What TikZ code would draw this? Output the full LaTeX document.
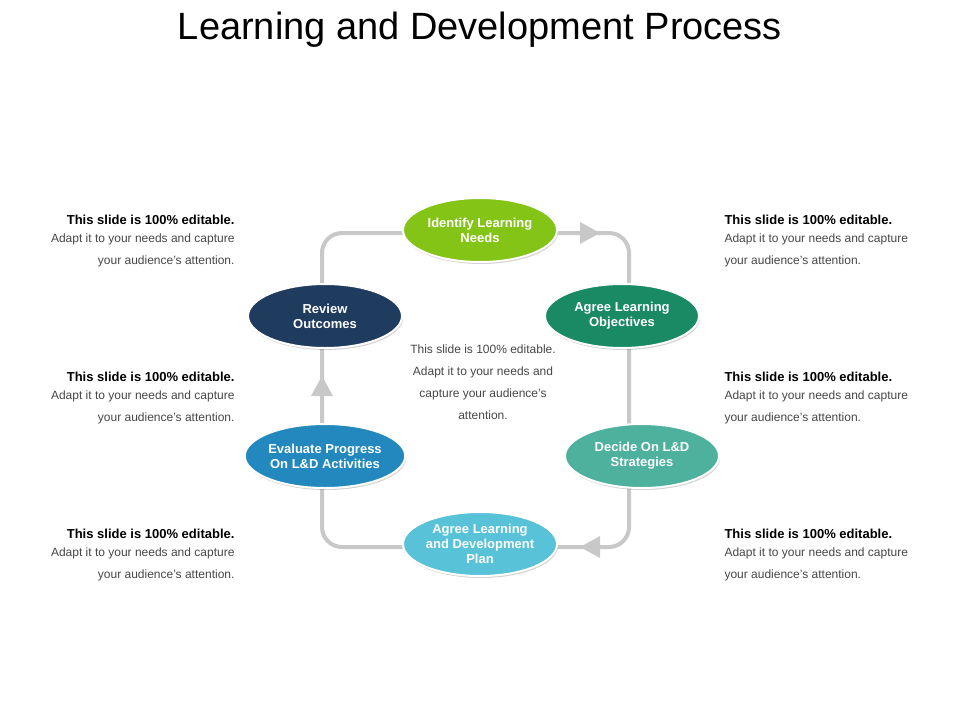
\documentclass[tikz,border=0pt]{standalone}
\usepackage{fontspec}
\setmainfont{Liberation Sans}
\usetikzlibrary{shapes.geometric,shadows}
\definecolor{cA}{RGB}{132,196,22}
\definecolor{cB}{RGB}{31,59,94}
\definecolor{cC}{RGB}{26,138,100}
\definecolor{cD}{RGB}{34,136,190}
\definecolor{cE}{RGB}{77,177,158}
\definecolor{cF}{RGB}{88,194,216}
\definecolor{loopc}{RGB}{200,200,200}
\definecolor{txtg}{RGB}{70,70,70}
\begin{document}
\begin{tikzpicture}[x=1pt,y=-1pt,
  oval/.style={ellipse,draw=white,line width=2pt,minimum width=154pt,minimum height=64pt,inner sep=0pt,
    text=white,font=\fontsize{13}{15}\selectfont\bfseries,align=center,drop shadow={opacity=0.35,shadow xshift=1pt,shadow yshift=-2pt}},
  loopline/.style={draw=loopc,line width=4pt,rounded corners=20pt},
  tri/.style={fill=loopc},
  head/.style={font=\fontsize{13}{15}\selectfont\bfseries},
  body/.style={font=\fontsize{12}{22}\selectfont,text=txtg}]
\useasboundingbox (0,0) rectangle (960,720);
\node (title) at (480,30) {\fontsize{38}{44}\selectfont Learning and Development Process};
\coordinate (tl) at (322,233); \coordinate (tr) at (629,233);
\coordinate (br) at (629,547); \coordinate (bl) at (322,547);
\draw[loopline] (tl) -- (tr) -- (br) -- (bl) -- cycle;
\coordinate (a1) at (600,233); \coordinate (a2) at (580,222); \coordinate (a3) at (580,244);
\fill[tri] (a1) -- (a2) -- (a3) -- cycle;
\coordinate (b1) at (580,547); \coordinate (b2) at (600,536); \coordinate (b3) at (600,558);
\fill[tri] (b1) -- (b2) -- (b3) -- cycle;
\coordinate (c1) at (322,376); \coordinate (c2) at (311,396); \coordinate (c3) at (333,396);
\fill[tri] (c1) -- (c2) -- (c3) -- cycle;
\node[oval,fill=cA] (n1) at (480,230) {Identify Learning\\Needs};
\node[oval,fill=cB] (n2) at (325,316) {Review\\Outcomes};
\node[oval,fill=cC] (n3) at (622,316) {Agree Learning\\Objectives};
\node[oval,fill=cD] (n4) at (325,456) {Evaluate Progress\\On L\&D Activities};
\node[oval,fill=cE] (n5) at (642,456) {Decide On L\&D\\Strategies};
\node[oval,fill=cF] (n6) at (480,544) {Agree Learning\\and Development\\Plan};
\node[body,align=center,anchor=north] (ctr) at (483,341) {This slide is 100\% editable.\\Adapt it to your needs and\\capture your audience's\\attention.};
\foreach \y/\nm in {220/l1,377/l2,534/l3}{
  \node[head,anchor=east] (\nm h) at (238,\y) {This slide is 100\% editable.};
  \node[body,anchor=north east,align=right] (\nm b) at (238,\y+10) {Adapt it to your needs and capture\\your audience's attention.};
}
\foreach \y/\nm in {220/r1,377/r2,534/r3}{
  \node[head,anchor=west] (\nm h) at (721,\y) {This slide is 100\% editable.};
  \node[body,anchor=north west,align=left] (\nm b) at (721,\y+10) {Adapt it to your needs and capture\\your audience's attention.};
}
\end{tikzpicture}
\end{document}
